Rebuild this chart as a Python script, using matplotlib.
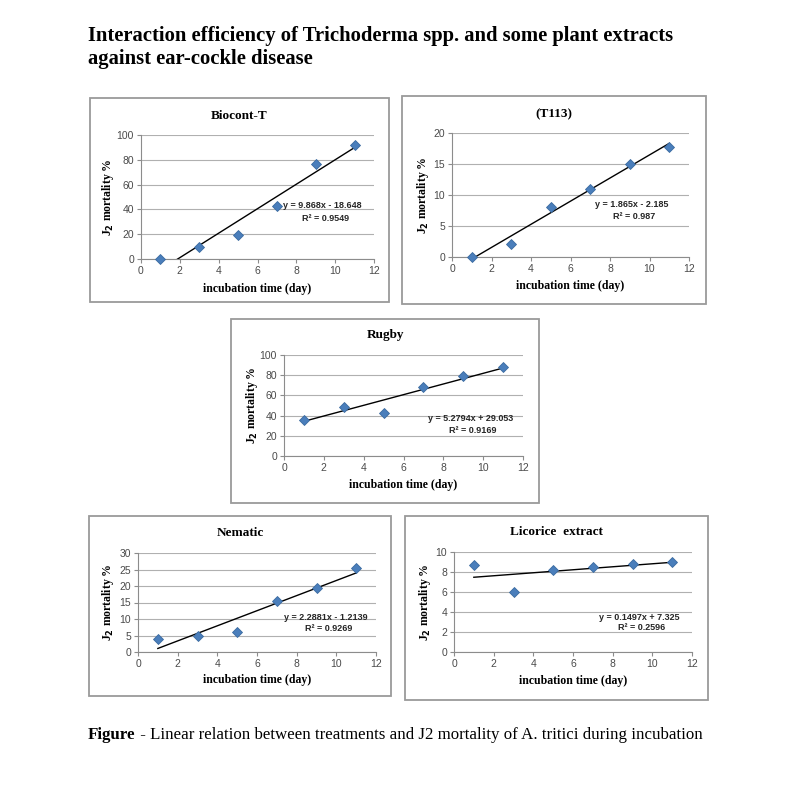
import matplotlib
matplotlib.use("Agg")
import matplotlib.pyplot as plt
from matplotlib.patches import Rectangle
import numpy as np

W, H = 802, 800

days = [1, 3, 5, 7, 9, 11]
titles = ["Biocont-T", "(T113)", "Rugby", "Nematic", "Licorice  extract"]
mort_biocont = [0, 10, 19, 43, 77, 92]
mort_t113 = [0, 2.1, 8.1, 11, 15, 17.8]
mort_rugby = [36, 49, 43, 68, 79, 88]
mort_nematic = [4, 4.8, 6.2, 15.6, 19.3, 25.4]
mort_licorice = [8.7, 6.0, 8.2, 8.5, 8.8, 9.0]
slopes = [9.868, 1.865, 5.2794, 2.2881, 0.1497]
intercepts = [-18.648, -2.185, 29.053, -1.2139, 7.325]
eq_texts = ["y = 9.868x - 18.648", "y = 1.865x - 2.185", "y = 5.2794x + 29.053",
            "y = 2.2881x - 1.2139", "y = 0.1497x + 7.325"]
r2_texts = ["R² = 0.9549", "R² = 0.987", "R² = 0.9169", "R² = 0.9269", "R² = 0.2596"]
y_max = [100, 20, 100, 30, 10]
y_step = [20, 5, 20, 5, 2]
x_ticks = [0, 2, 4, 6, 8, 10, 12]
series = [mort_biocont, mort_t113, mort_rugby, mort_nematic, mort_licorice]

# layout in pixels: axes (left, top, width, height), frame (x0, y0, x1, y1)
axes_px = [(141, 135, 233, 124), (452, 133, 237, 124), (284, 355, 239, 101),
           (138, 553, 238, 99), (454, 552, 238, 100)]
frames_px = [(90, 98, 389, 302), (402, 96, 706, 304), (231, 319, 539, 503),
             (89, 516, 391, 696), (405, 516, 708, 700)]
title_y = [116, 114, 335, 533, 532]
ylabel_x = [108, 423, 252, 108, 425]
xlabel_y = [289, 286, 485, 680, 681]
eq_pos = [(0.78, 0.43, 0.33), (0.76, 0.42, 0.33), (0.78, 0.37, 0.25),
          (0.79, 0.35, 0.24), (0.78, 0.35, 0.24)]

serif = "Liberation Serif"
sans = "Liberation Sans"

fig = plt.figure(figsize=(W / 100, H / 100), dpi=100)
fig.patch.set_facecolor("white")

for i in range(5):
    fx0, fy0, fx1, fy1 = frames_px[i]
    fig.patches.append(Rectangle((fx0 / W, 1 - fy1 / H), (fx1 - fx0) / W, (fy1 - fy0) / H,
                                 transform=fig.transFigure, fill=False,
                                 edgecolor="#9a9a9a", linewidth=1.3, zorder=0))
    l, t, w, h = axes_px[i]
    ax = fig.add_axes([l / W, 1 - (t + h) / H, w / W, h / H])
    ax.set_xlim(0, 12)
    ax.set_ylim(0, y_max[i])
    ax.set_xticks(x_ticks)
    ax.set_yticks(np.arange(0, y_max[i] + 0.001, y_step[i]))
    ax.grid(axis="y", color="#b0b0b0", linewidth=0.8)
    ax.set_axisbelow(True)
    for s in ["top", "right"]:
        ax.spines[s].set_visible(False)
    for s in ["left", "bottom"]:
        ax.spines[s].set_color("#8c8c8c")
        ax.spines[s].set_linewidth(0.8)
    ax.tick_params(axis="both", direction="out", length=3, width=0.8, color="#8c8c8c",
                   labelsize=7.5, labelcolor="#4a4a4a", pad=2)
    for lab in ax.get_xticklabels() + ax.get_yticklabels():
        lab.set_fontfamily(sans)
    xs = np.array([days[0], days[-1]], dtype=float)
    ys = slopes[i] * xs + intercepts[i]
    ax.plot(xs, ys, color="black", linewidth=1.0, zorder=3, clip_on=True)
    ax.plot(days, series[i], linestyle="none", marker="D", markersize=5.5,
            markerfacecolor="#4a7ebb", markeredgecolor="#3a6aa0", markeredgewidth=0.6,
            zorder=4, clip_on=False)
    ex, ey, ry = eq_pos[i]
    ax.text(ex, ey, eq_texts[i], transform=ax.transAxes, ha="center", va="center",
            fontsize=6.5, fontfamily=sans, fontweight="bold", color="#262626", zorder=5)
    ax.text(ex + 0.01, ry, r2_texts[i], transform=ax.transAxes, ha="center", va="center",
            fontsize=6.5, fontfamily=sans, fontweight="bold", color="#262626", zorder=5)
    fig.text((fx0 + fx1) / 2 / W, 1 - title_y[i] / H, titles[i], fontfamily=serif,
             fontweight="bold", fontsize=9.5, ha="center", va="center")
    ax.set_xlabel("incubation time (day)", fontfamily=serif, fontweight="bold", fontsize=8.5)
    ax.xaxis.set_label_coords(0.5, -(xlabel_y[i] - (t + h)) / h)
    ax.xaxis.label.set_va("center")
    ax.set_ylabel("J$_\\mathbf{2}$ mortality %", fontfamily=serif, fontweight="bold",
                  fontsize=8.5)
    ax.yaxis.set_label_coords((ylabel_x[i] - l) / w, 0.5)
    ax.yaxis.label.set_ha("center")
    ax.yaxis.label.set_va("center")

fig.text(88 / W, 1 - 36 / H, "Interaction efficiency of Trichoderma spp. and some plant extracts",
         fontfamily=serif, fontweight="bold", fontsize=14.9, va="center", ha="left")
fig.text(88 / W, 1 - 59 / H, "against ear-cockle disease",
         fontfamily=serif, fontweight="bold", fontsize=14.9, va="center", ha="left")
t1 = fig.text(88 / W, 1 - 735 / H, "Figure", fontfamily=serif, fontweight="bold",
              fontsize=12.2, va="center", ha="left")
fig.canvas.draw()
bb = t1.get_window_extent()
fig.text(bb.x1 / W, 1 - 735 / H,
         " - Linear relation between treatments and J2 mortality of A. tritici during incubation",
         fontfamily=serif, fontsize=12.2, va="center", ha="left")

fig.savefig("out.png", dpi=100, facecolor="white")
